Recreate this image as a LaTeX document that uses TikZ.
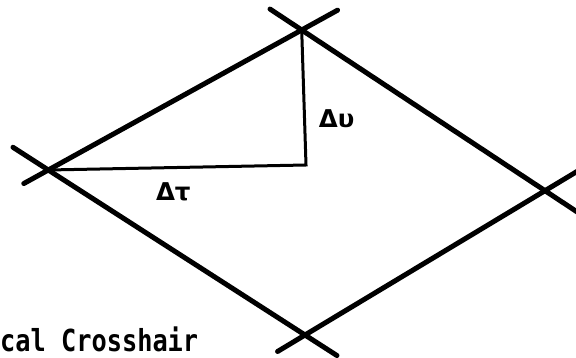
\documentclass[tikz,border=0pt]{standalone}
\usepackage{fontspec}
\newfontfamily\labelfont{DejaVu Sans}
\newfontfamily\captionfont{DejaVu Sans Mono}
\begin{document}
\begin{tikzpicture}[x=1pt,y=-1pt,
  side/.style={line width=5pt,line cap=round},
  leg/.style={line width=3pt},
  delta/.style={font=\labelfont\bfseries\fontsize{24.5}{26}\selectfont}]
\useasboundingbox (0,0) rectangle (576,358);
\clip (0,0) rectangle (576,358);
\coordinate (top) at (301.7,30);
\coordinate (left) at (48.3,170);
\coordinate (right) at (545,190.7);
\coordinate (bottom) at (305,335);
\coordinate (corner) at (306,165);
\draw[side,shorten <=-28pt,shorten >=-41pt] (left) -- (top);
\draw[side,shorten <=-38pt,shorten >=-45pt] (top) -- (right);
\draw[side,shorten <=-42pt,shorten >=-38pt] (left) -- (bottom);
\draw[side,shorten <=-32pt,shorten >=-45pt] (bottom) -- (right);
\draw[leg] (top) -- (corner) -- (left);
\node[delta] (du) at (336.7,118.3) {Δυ};
\node[delta] (dt) at (173.3,191.7) {Δτ};
\node[anchor=base west,inner sep=0pt,font=\captionfont\bfseries\fontsize{25.3}{28}\selectfont] (caption) at (0,351.7) {\scalebox{1}[1.2]{cal Crosshair}};
\end{tikzpicture}
\end{document}
